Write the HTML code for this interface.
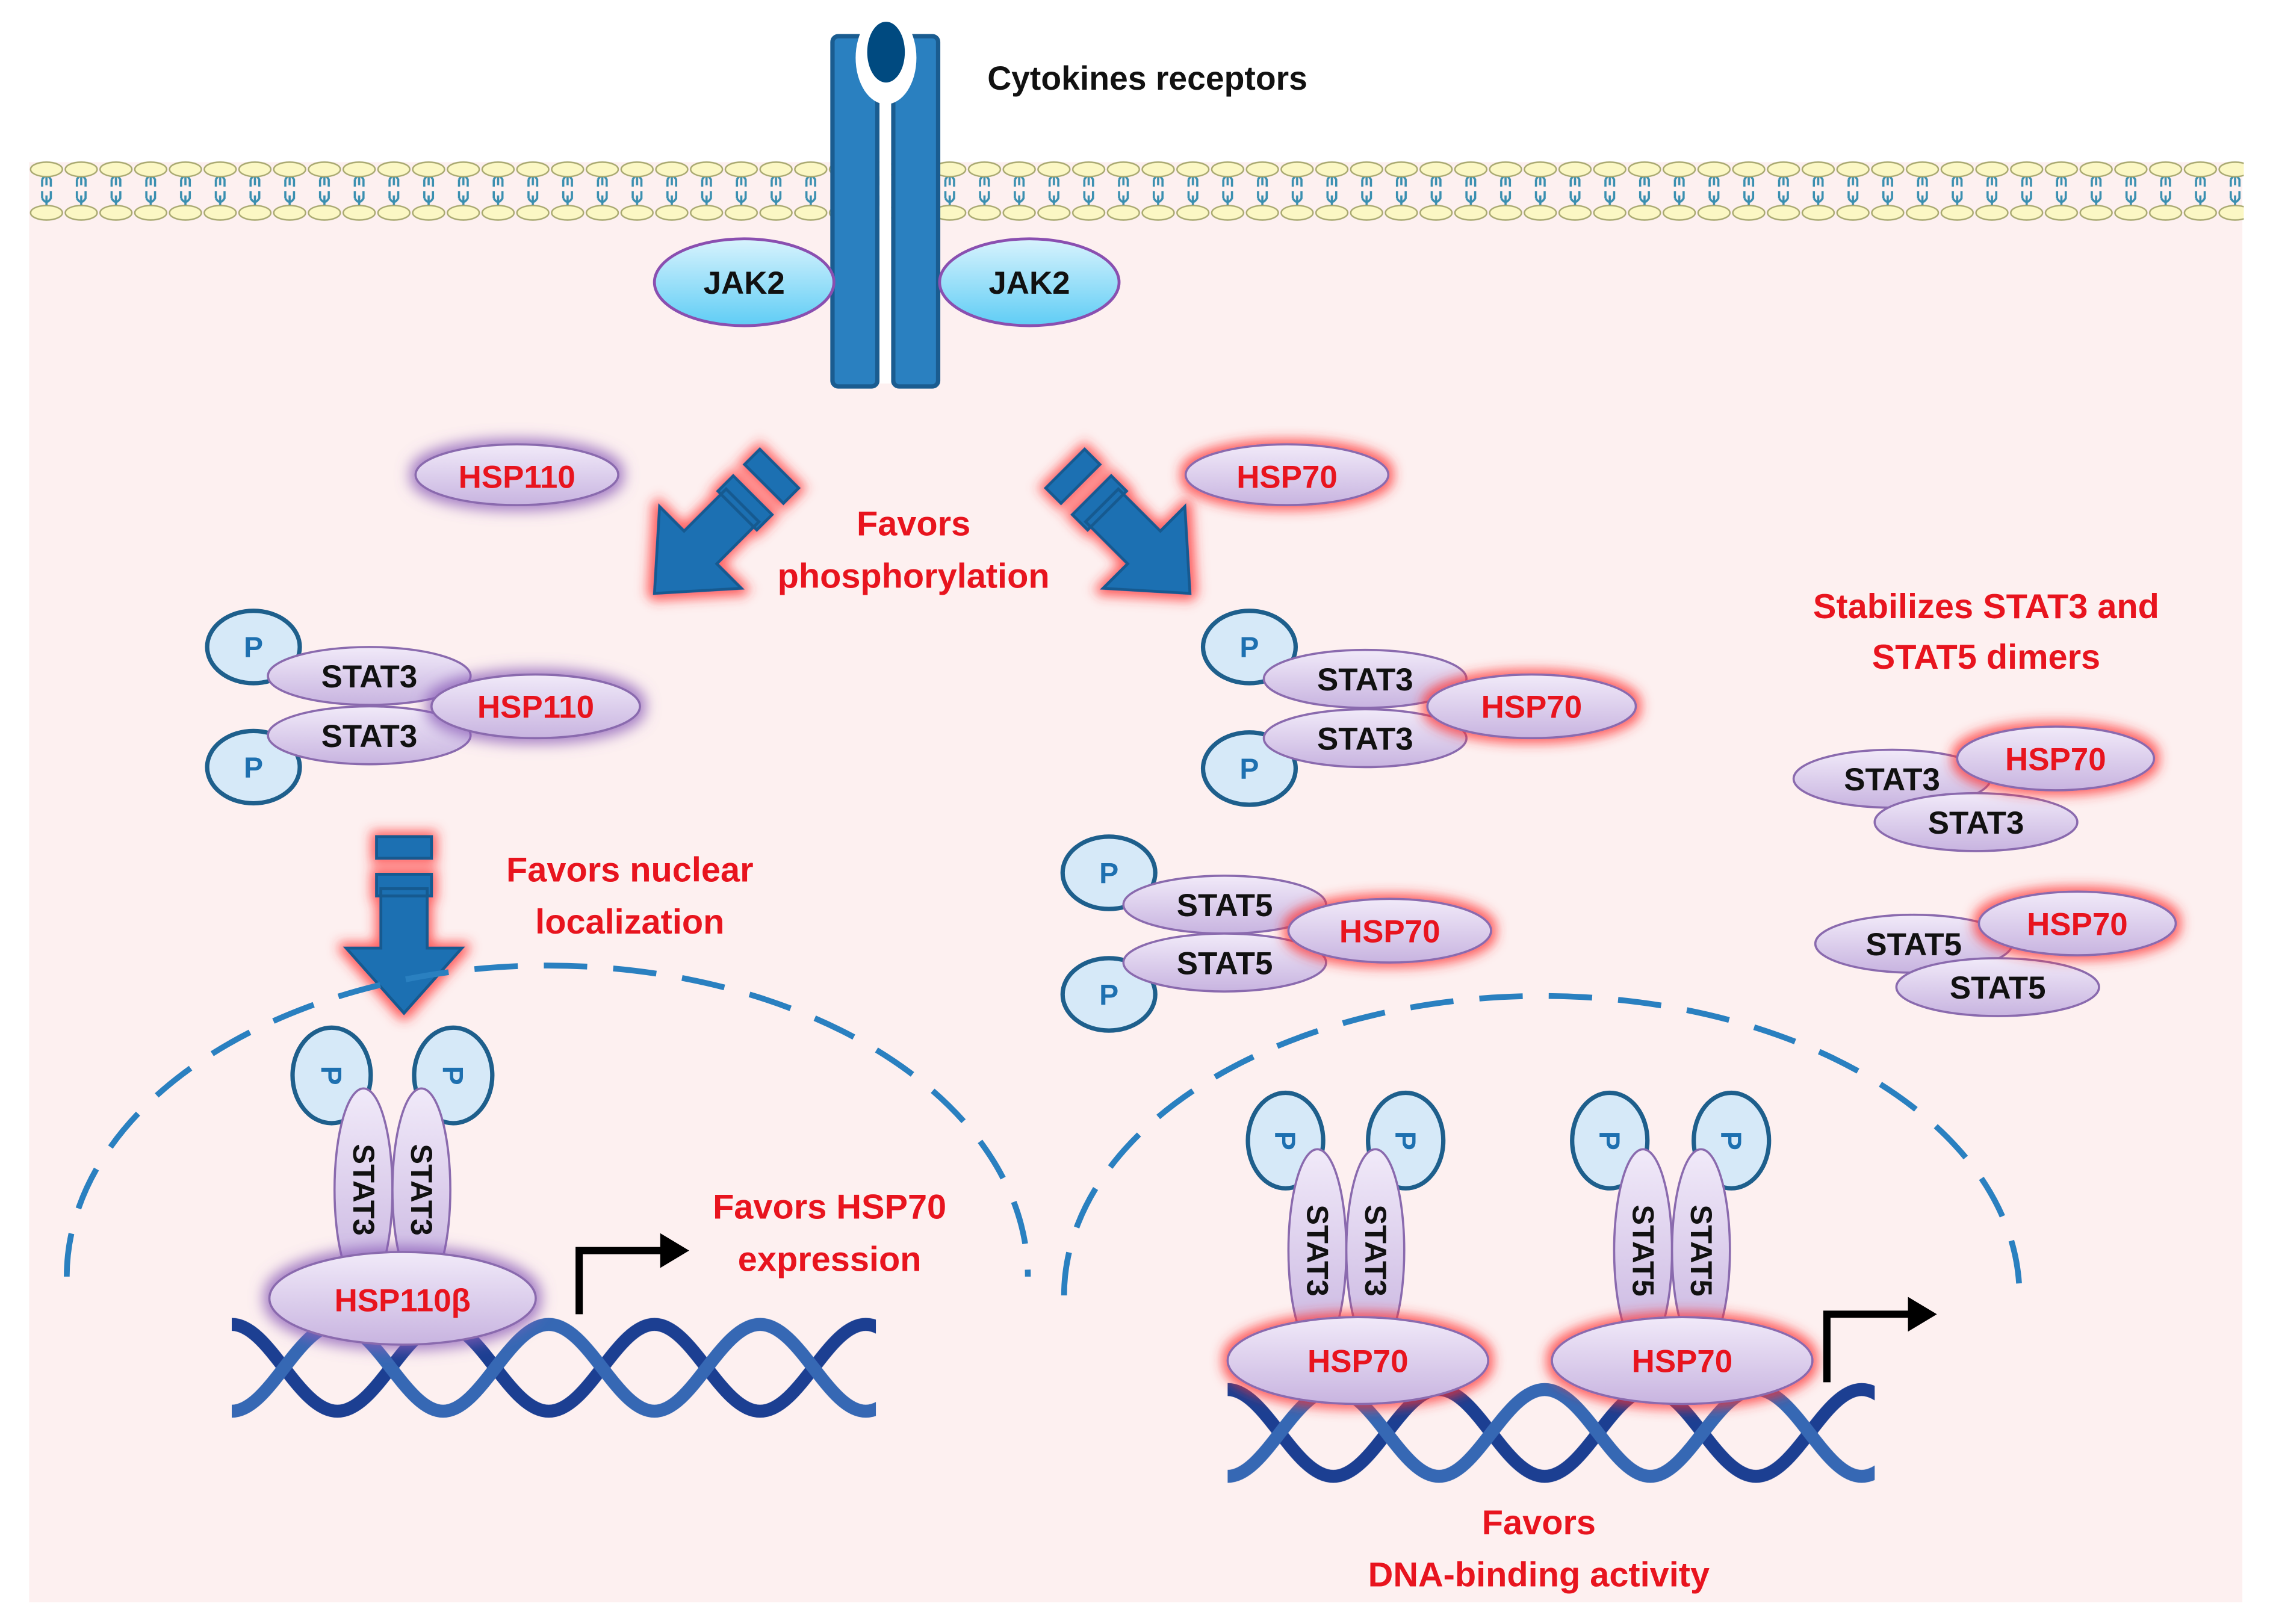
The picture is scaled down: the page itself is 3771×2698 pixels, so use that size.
<!DOCTYPE html>
<html><head><meta charset="utf-8"><style>
html,body{margin:0;padding:0;background:#fff}
svg{display:block}
text{font-family:"Liberation Sans",sans-serif;font-weight:bold}
.r{fill:#e8141e;font-size:24px;text-anchor:middle}
.k{fill:#111;font-size:22px;text-anchor:middle}
.hr{fill:#e8141e;font-size:22px;text-anchor:middle}
.p{fill:#1e70b0;font-size:20px;text-anchor:middle}
</style></head><body>
<svg width="3771" height="2698" viewBox="0 0 1568 1122" xmlns="http://www.w3.org/2000/svg">
<defs>
<linearGradient id="pur" x1="0" y1="0" x2="0" y2="1"><stop offset="0" stop-color="#f1eaf9"/><stop offset="1" stop-color="#c8b4e0"/></linearGradient>
<linearGradient id="cy" x1="0" y1="0" x2="0" y2="1"><stop offset="0" stop-color="#d8f3fd"/><stop offset="1" stop-color="#5fcdf5"/></linearGradient>
<filter id="rg" x="-40%" y="-60%" width="180%" height="220%">
<feMorphology in="SourceAlpha" operator="dilate" radius="3" result="d"/><feGaussianBlur in="d" stdDeviation="4" result="b"/>
<feFlood flood-color="#ff3030" flood-opacity="0.75"/><feComposite in2="b" operator="in" result="g"/>
<feMerge><feMergeNode in="g"/><feMergeNode in="SourceGraphic"/></feMerge></filter>
<filter id="pg" x="-40%" y="-60%" width="180%" height="220%">
<feMorphology in="SourceAlpha" operator="dilate" radius="3" result="d"/><feGaussianBlur in="d" stdDeviation="5" result="b"/>
<feFlood flood-color="#8a5cb8" flood-opacity="0.8"/><feComposite in2="b" operator="in" result="g"/>
<feMerge><feMergeNode in="g"/><feMergeNode in="SourceGraphic"/></feMerge></filter>
<pattern id="mem" x="20" y="0" width="24" height="160" patternUnits="userSpaceOnUse">
<path d="M12,121 v7 M9,124 q3,-5 6,0 v5 M9,124 v5 M12,142 v-7 M9,137 q3,5 6,0 v-5 M9,137 v-5" stroke="#3a8fb0" stroke-width="1.5" fill="none"/>
<ellipse cx="12" cy="117" rx="11" ry="5" fill="#fbf7c4" stroke="#a8a870" stroke-width="1"/>
<ellipse cx="12" cy="147" rx="11" ry="5" fill="#fbf7c4" stroke="#a8a870" stroke-width="1"/>
</pattern>
<pattern id="dna1" x="160" y="910" width="146" height="70" patternUnits="userSpaceOnUse">
<path d="M-73,65 C-46,65 -26,5 0,5 C26,5 46,65 73,65 C100,65 120,5 146,5 C172,5 192,65 219,65" stroke="#1c3f92" stroke-width="9" fill="none"/>
<path d="M0,65 C26,65 46,5 73,5 C100,5 120,65 146,65" stroke="#3668b4" stroke-width="9" fill="none"/>
</pattern>
<pattern id="dna2" x="848" y="955" width="146" height="70" patternUnits="userSpaceOnUse">
<path d="M-73,65 C-46,65 -26,5 0,5 C26,5 46,65 73,65 C100,65 120,5 146,5 C172,5 192,65 219,65" stroke="#1c3f92" stroke-width="9" fill="none"/>
<path d="M0,65 C26,65 46,5 73,5 C100,5 120,65 146,65" stroke="#3668b4" stroke-width="9" fill="none"/>
</pattern>
<g id="arr"><path d="M0,0 L-40,-45 L-16,-45 L-16,-86 L16,-86 L16,-45 L40,-45 Z M-19,-96 h38 v15 h-38 z M-19,-122 h38 v15 h-38 z" fill="#1f6fb2" stroke="#155a90" stroke-width="2"/></g>
</defs>
<rect x="20" y="112" width="1529" height="995" fill="#fdf0f0"/>
<rect x="20" y="100" width="1530" height="60" fill="url(#mem)"/>
<rect x="575" y="25" width="31" height="242" rx="4" fill="#2a80c0" stroke="#1a5c90" stroke-width="3"/>
<rect x="617" y="25" width="31" height="242" rx="4" fill="#2a80c0" stroke="#1a5c90" stroke-width="3"/>
<rect x="607.5" y="40" width="8" height="225" fill="#fff"/>
<ellipse cx="612" cy="40" rx="21" ry="32" fill="#fff"/>
<ellipse cx="612" cy="36" rx="13" ry="21" fill="#004a80"/>
<text x="682" y="62" style="font-size:23px;fill:#111">Cytokines receptors</text>
<ellipse cx="514" cy="195" rx="62" ry="30" fill="url(#cy)" stroke="#8a4fb0" stroke-width="2"/>
<ellipse cx="711" cy="195" rx="62" ry="30" fill="url(#cy)" stroke="#8a4fb0" stroke-width="2"/>
<text x="514" y="203" class="k">JAK2</text><text x="711" y="203" class="k">JAK2</text>
<ellipse cx="357" cy="328" rx="70" ry="21" fill="url(#pur)" stroke="#8a6aae" stroke-width="1.5" filter="url(#pg)"/>
<text x="357" y="337" class="hr">HSP110</text>
<ellipse cx="889" cy="328" rx="70" ry="21" fill="url(#pur)" stroke="#8a6aae" stroke-width="1.5" filter="url(#rg)"/>
<text x="889" y="337" class="hr">HSP70</text>
<use href="#arr" transform="translate(452,410) rotate(45)" filter="url(#rg)"/>
<use href="#arr" transform="translate(822,410) rotate(-45)" filter="url(#rg)"/>
<use href="#arr" transform="translate(279,700)" filter="url(#rg)"/>
<text x="631" y="370" class="r">Favors</text><text x="631" y="406" class="r">phosphorylation</text>
<text x="435" y="609" class="r">Favors nuclear</text><text x="435" y="645" class="r">localization</text>
<text x="573" y="842" class="r">Favors HSP70</text><text x="573" y="878" class="r">expression</text>
<text x="1063" y="1060" class="r">Favors</text><text x="1063" y="1096" class="r">DNA-binding activity</text>
<text x="1372" y="427" class="r">Stabilizes STAT3 and</text><text x="1372" y="462" class="r">STAT5 dimers</text>
<g stroke="#1e5f8c" stroke-width="3" fill="#d6e9f8">
<ellipse cx="175" cy="447" rx="32" ry="25"/><ellipse cx="175" cy="530" rx="32" ry="25"/>
<ellipse cx="863" cy="447" rx="32" ry="25"/><ellipse cx="863" cy="531" rx="32" ry="25"/>
<ellipse cx="766" cy="603" rx="32" ry="25"/><ellipse cx="766" cy="687" rx="32" ry="25"/>
<ellipse cx="229" cy="743" rx="27" ry="33"/><ellipse cx="313" cy="743" rx="27" ry="33"/>
<ellipse cx="888" cy="788" rx="26" ry="33"/><ellipse cx="971" cy="788" rx="26" ry="33"/>
<ellipse cx="1112" cy="788" rx="26" ry="33"/><ellipse cx="1196" cy="788" rx="26" ry="33"/>
</g>
<text x="175" y="454" class="p">P</text><text x="175" y="537" class="p">P</text>
<text x="863" y="454" class="p">P</text><text x="863" y="538" class="p">P</text>
<text x="766" y="610" class="p">P</text><text x="766" y="694" class="p">P</text>
<g font-size="20" fill="#1e70b0" font-family="Liberation Sans" font-weight="bold" text-anchor="middle">
<text transform="translate(222,743) rotate(90)">P</text><text transform="translate(306,743) rotate(90)">P</text>
<text transform="translate(881,788) rotate(90)">P</text><text transform="translate(964,788) rotate(90)">P</text>
<text transform="translate(1105,788) rotate(90)">P</text><text transform="translate(1189,788) rotate(90)">P</text></g>
<g fill="url(#pur)" stroke="#8a6aae" stroke-width="1.5">
<ellipse cx="255" cy="467" rx="70" ry="20"/><ellipse cx="255" cy="508" rx="70" ry="20"/>
<ellipse cx="943" cy="469" rx="70" ry="20"/><ellipse cx="943" cy="510" rx="70" ry="20"/>
<ellipse cx="846" cy="625" rx="70" ry="20"/><ellipse cx="846" cy="665" rx="70" ry="20"/>
<ellipse cx="1307" cy="538" rx="68" ry="20"/><ellipse cx="1365" cy="568" rx="70" ry="20"/>
<ellipse cx="1322" cy="652" rx="68" ry="20"/><ellipse cx="1380" cy="682" rx="70" ry="20"/>
<ellipse cx="251" cy="822" rx="20" ry="70"/><ellipse cx="291" cy="822" rx="20" ry="70"/>
<ellipse cx="910" cy="864" rx="20" ry="70"/><ellipse cx="950" cy="864" rx="20" ry="70"/>
<ellipse cx="1135" cy="864" rx="20" ry="70"/><ellipse cx="1175" cy="864" rx="20" ry="70"/>
</g>
<text x="255" y="475" class="k">STAT3</text><text x="255" y="516" class="k">STAT3</text>
<text x="943" y="477" class="k">STAT3</text><text x="943" y="518" class="k">STAT3</text>
<text x="846" y="633" class="k">STAT5</text><text x="846" y="673" class="k">STAT5</text>
<text x="1307" y="546" class="k">STAT3</text><text x="1365" y="576" class="k">STAT3</text>
<text x="1322" y="660" class="k">STAT5</text><text x="1380" y="690" class="k">STAT5</text>
<g font-size="21" fill="#111" font-family="Liberation Sans" font-weight="bold" text-anchor="middle">
<text transform="translate(244,822) rotate(90)">STAT3</text><text transform="translate(284,822) rotate(90)">STAT3</text>
<text transform="translate(903,864) rotate(90)">STAT3</text><text transform="translate(943,864) rotate(90)">STAT3</text>
<text transform="translate(1128,864) rotate(90)">STAT5</text><text transform="translate(1168,864) rotate(90)">STAT5</text></g>
<g fill="url(#pur)" stroke="#8a6aae" stroke-width="1.5">
<ellipse cx="370" cy="488" rx="72" ry="22" filter="url(#pg)"/>
<ellipse cx="1058" cy="488" rx="72" ry="22" filter="url(#rg)"/>
<ellipse cx="960" cy="643" rx="70" ry="22" filter="url(#rg)"/>
<ellipse cx="1420" cy="524" rx="68" ry="22" filter="url(#rg)"/>
<ellipse cx="1435" cy="638" rx="68" ry="22" filter="url(#rg)"/>
</g>
<text x="370" y="496" class="hr">HSP110</text><text x="1058" y="496" class="hr">HSP70</text>
<text x="960" y="651" class="hr">HSP70</text><text x="1420" y="532" class="hr">HSP70</text><text x="1435" y="646" class="hr">HSP70</text>
<path d="M46,882 A332,215 0 0 1 710,882" fill="none" stroke="#2a80c0" stroke-width="4" stroke-dasharray="30 18"/>
<path d="M735,895 A330,207 0 0 1 1395,895" fill="none" stroke="#2a80c0" stroke-width="4" stroke-dasharray="30 18"/>
<rect x="160" y="910" width="445" height="70" fill="url(#dna1)"/>
<rect x="848" y="955" width="447" height="70" fill="url(#dna2)"/>
<ellipse cx="278" cy="897" rx="92" ry="32" fill="url(#pur)" stroke="#8a6aae" stroke-width="1.5" filter="url(#pg)"/>
<text x="278" y="906" class="hr">HSP110β</text>
<ellipse cx="938" cy="940" rx="90" ry="30" fill="url(#pur)" stroke="#8a6aae" stroke-width="1.5" filter="url(#rg)"/>
<ellipse cx="1162" cy="940" rx="90" ry="30" fill="url(#pur)" stroke="#8a6aae" stroke-width="1.5" filter="url(#rg)"/>
<text x="938" y="948" class="hr">HSP70</text><text x="1162" y="948" class="hr">HSP70</text>
<path d="M400,908 V864 H458" fill="none" stroke="#000" stroke-width="5"/>
<path d="M456,852 L476,864 L456,876 Z" fill="#000"/>
<path d="M1262,955 V908 H1320" fill="none" stroke="#000" stroke-width="5"/>
<path d="M1318,896 L1338,908 L1318,920 Z" fill="#000"/>
</svg>
</body></html>
